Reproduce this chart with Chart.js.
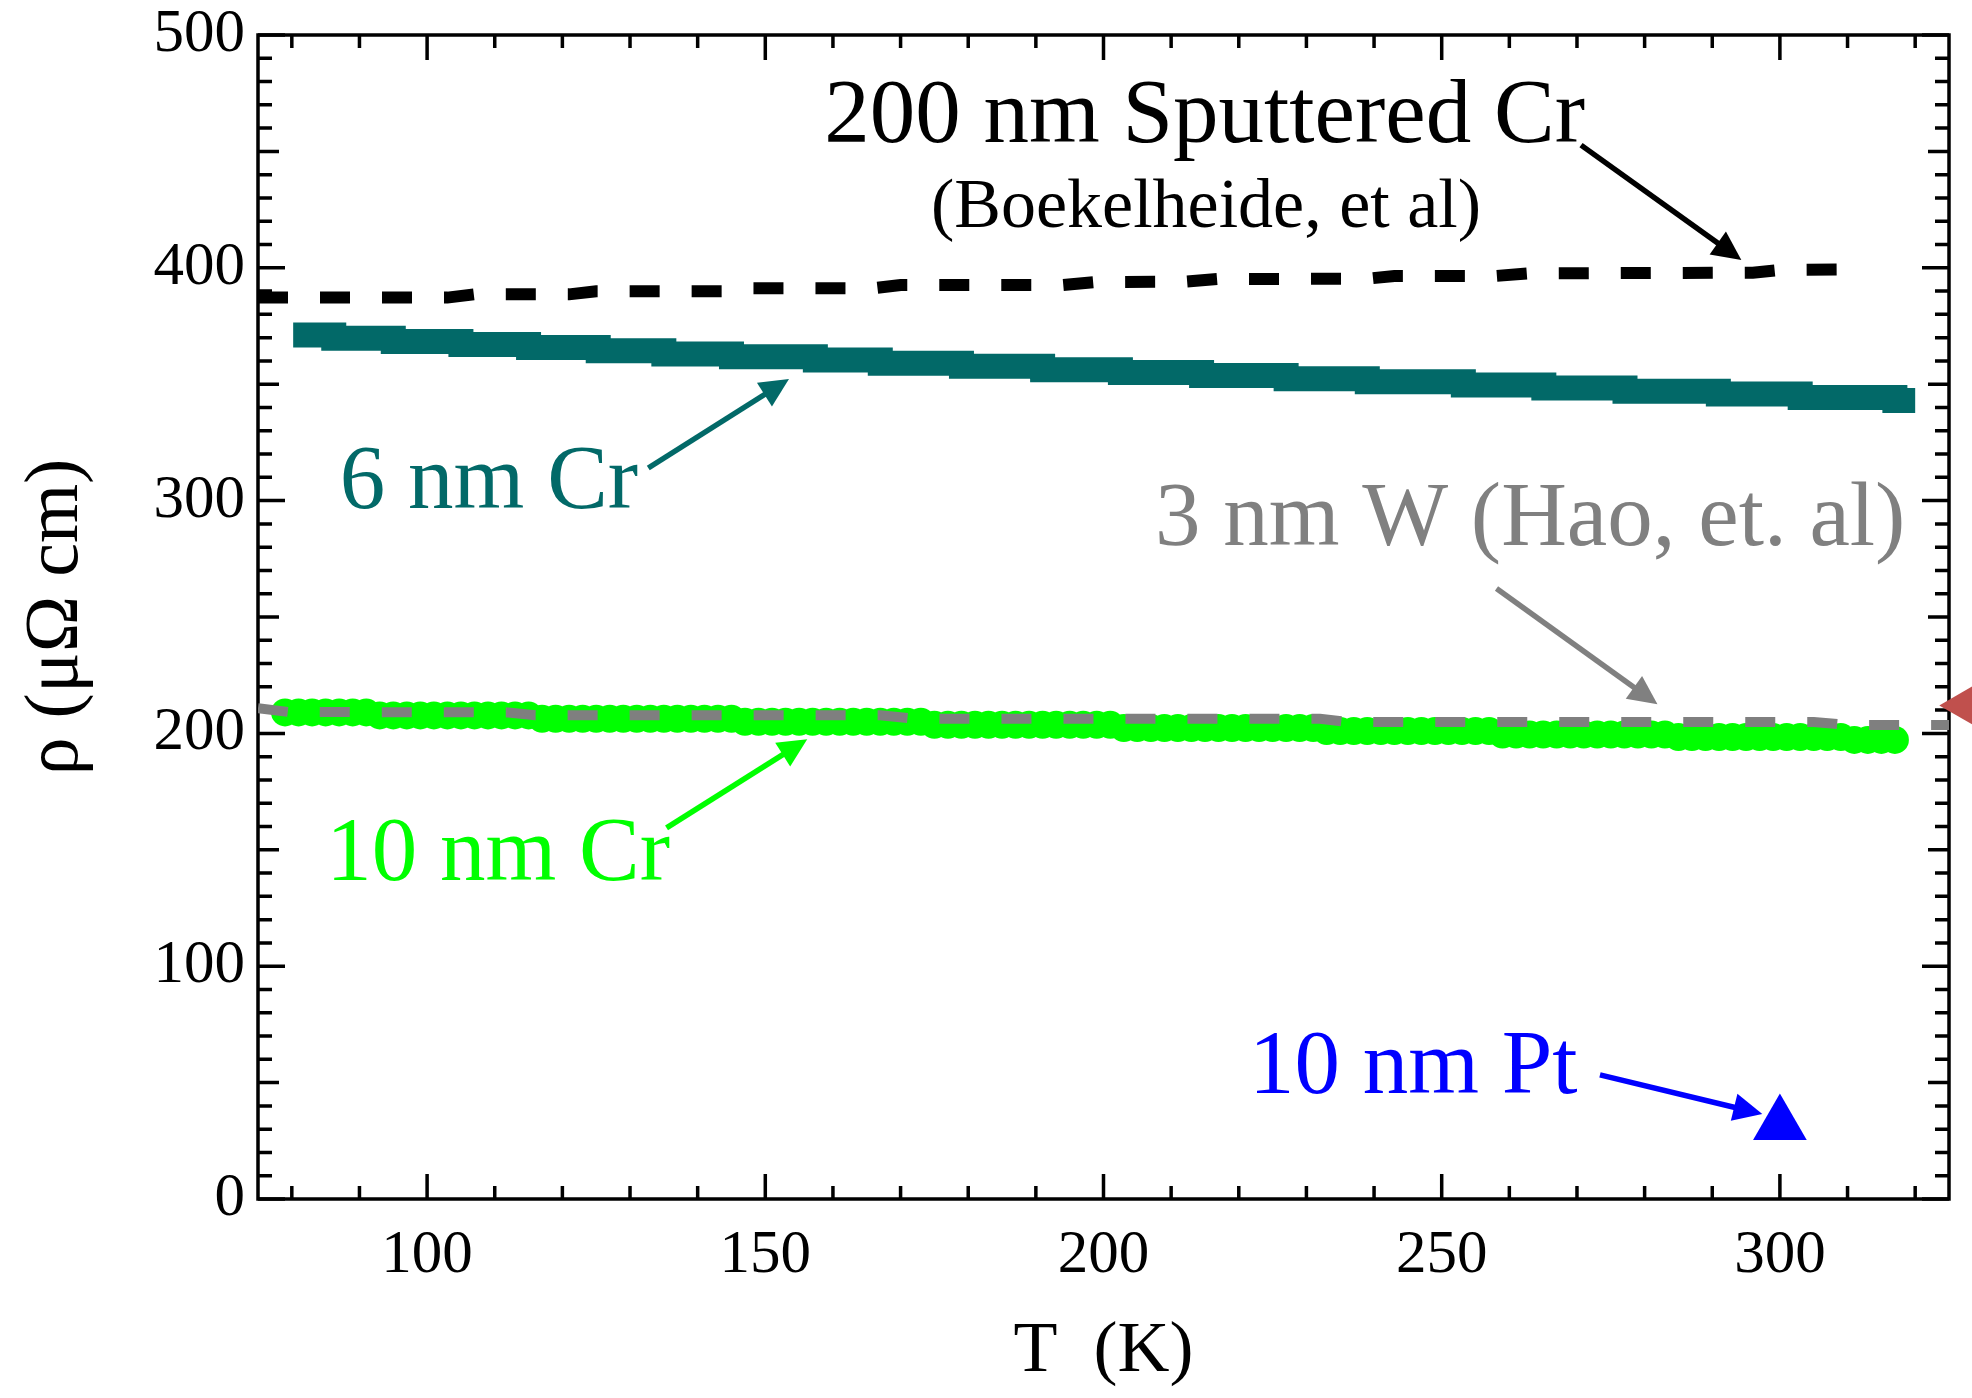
<!DOCTYPE html>
<html>
<head>
<meta charset="utf-8">
<script src="https://cdn.jsdelivr.net/npm/chart.js@4.4.1/dist/chart.umd.min.js"></script>
<style>
  html, body { margin: 0; padding: 0; background: #fff; }
  canvas { display: block; }
</style>
</head>
<body>
<canvas id="rhoChart" width="1972" height="1398"></canvas>
<script>
// 200 nm sputtered Cr (Boekelheide, et al)
var boekT   = [75, 103, 107, 121, 125, 144, 148, 166, 170, 194, 199, 212, 217, 239, 243, 258, 263, 296, 300, 310];
var boekRho = [387.2, 387.2, 388.6, 388.6, 389.9, 389.9, 391.2, 391.2, 392.6, 392.6, 393.9, 394.0, 395.2, 395.3, 396.5, 396.5, 397.6, 397.9, 399.1, 399.3];

// 6 nm Cr
var cr6T   = [80.2, 86.2, 95, 105, 115, 125.3, 135, 145, 157.4, 167, 179, 191, 202.5, 214.5, 227, 239, 253.2, 265.1, 277.1, 290.9, 303, 317, 320];
var cr6Rho = [371.1, 369.7, 368.3, 367.0, 365.8, 364.4, 363.0, 361.8, 360.4, 359.0, 357.7, 356.2, 355.0, 353.7, 352.3, 351.1, 349.7, 348.4, 347.0, 345.8, 344.3, 343.0, 343.0];

// 10 nm Cr
var cr10T = [79, 81, 83, 85, 87, 89, 91,
  93, 95, 97, 99, 101, 103, 105, 107, 109, 111, 113, 115,
  117, 119, 121, 123, 125, 127, 129, 131, 133, 135, 137, 139, 141, 143, 145,
  147, 149, 151, 153, 155, 157, 159, 161, 163, 165, 167, 169, 171, 173,
  175, 177, 179, 181, 183, 185, 187, 189, 191, 193, 195, 197, 199, 201,
  203, 205, 207, 209, 211, 213, 215, 217, 219, 221, 223, 225, 227, 229, 231,
  233, 235, 237, 239, 241, 243, 245, 247, 249, 251, 253, 255, 257,
  259, 261, 263, 265, 267, 269, 271, 273, 275, 277, 279, 281, 283,
  285, 287, 289, 291, 293, 295, 297, 299, 301, 303, 305, 307, 309,
  311, 313, 315, 317];
var cr10Rho = [209.0, 209.0, 209.0, 209.0, 209.0, 209.0, 209.0,
  207.7, 207.7, 207.7, 207.7, 207.7, 207.7, 207.7, 207.7, 207.7, 207.7, 207.7, 207.7,
  206.3, 206.3, 206.3, 206.3, 206.3, 206.3, 206.3, 206.3, 206.3, 206.3, 206.3, 206.3, 206.3, 206.3, 206.3,
  205.0, 205.0, 205.0, 205.0, 205.0, 205.0, 205.0, 205.0, 205.0, 205.0, 205.0, 205.0, 205.0, 205.0,
  203.7, 203.7, 203.7, 203.7, 203.7, 203.7, 203.7, 203.7, 203.7, 203.7, 203.7, 203.7, 203.7, 203.7,
  202.3, 202.3, 202.3, 202.3, 202.3, 202.3, 202.3, 202.3, 202.3, 202.3, 202.3, 202.3, 202.3, 202.3, 202.3,
  201.0, 201.0, 201.0, 201.0, 201.0, 201.0, 201.0, 201.0, 201.0, 201.0, 201.0, 201.0, 201.0,
  199.5, 199.5, 199.5, 199.5, 199.5, 199.5, 199.5, 199.5, 199.5, 199.5, 199.5, 199.5, 199.5,
  198.4, 198.4, 198.4, 198.4, 198.4, 198.4, 198.4, 198.4, 198.4, 198.4, 198.4, 198.4, 198.4,
  197.2, 197.2, 197.2, 197.2];

// 3 nm W (Hao, et. al)
var haoT   = [75, 79.5, 112, 116, 167, 172, 232, 236, 305, 310, 330];
var haoRho = [210.8, 209.2, 209.0, 207.8, 207.8, 206.3, 206.3, 204.9, 204.9, 203.6, 203.6];

// 10 nm Pt
var ptT   = [300];
var ptRho = [32];

// point cut off at the right edge
var edgeT   = [328];
var edgeRho = [212];

var xTickValues = [100, 150, 200, 250, 300];
var yTickValues = [0, 100, 200, 300, 400, 500];

var serif = '"Liberation Serif", "Times New Roman", serif';

// text labels, placed in data coordinates
var labels = [
  {text: '200 nm Sputtered Cr', x: 158.7, y: 454.0, color: '#000000', size: 91},
  {text: '(Boekelheide, et al)', x: 174.5, y: 417.5, color: '#000000', size: 70},
  {text: '6 nm Cr', x: 87.1, y: 296.8, color: '#026968', size: 91},
  {text: '3 nm W (Hao, et. al)', x: 207.6, y: 281.1, color: '#808080', size: 91},
  {text: '10 nm Cr', x: 85.1, y: 137.0, color: '#00FF00', size: 91},
  {text: '10 nm Pt', x: 221.5, y: 45.5, color: '#0000FF', size: 91}
];

// arrows: from (x1,y1) to tip (x2,y2), data coordinates
var arrows = [
  {x1: 270.6, y1: 452.7, x2: 294.3, y2: 403.4, color: '#000000'},
  {x1: 132.7, y1: 314.0, x2: 153.5, y2: 352.2, color: '#026968'},
  {x1: 258.1, y1: 262.2, x2: 281.9, y2: 212.5, color: '#808080'},
  {x1: 135.4, y1: 159.4, x2: 156.2, y2: 197.5, color: '#00FF00'},
  {x1: 273.4, y1: 53.3, x2: 297.4, y2: 36.5, color: '#0000FF'}
];

function toPoints(xs, ys) {
  var pts = [];
  for (var i = 0; i < xs.length; i++) {
    pts.push({x: xs[i], y: ys[i]});
  }
  return pts;
}

// frame with inward ticks on all four sides
var framePlugin = {
  id: 'frame',
  beforeDatasetsDraw: function(chart) {
    var ctx = chart.ctx;
    var a = chart.chartArea;
    var xs = chart.scales.x, ys = chart.scales.y;
    ctx.save();
    ctx.strokeStyle = '#000';
    ctx.lineWidth = 3.5;
    ctx.beginPath();
    for (var v = 0; v <= 500; v += 10) {
      var py = ys.getPixelForValue(v);
      var len = v % 100 === 0 ? 27 : (v % 50 === 0 ? 21 : 14);
      ctx.moveTo(a.left, py); ctx.lineTo(a.left + len, py);
      ctx.moveTo(a.right, py); ctx.lineTo(a.right - len, py);
    }
    for (var t = 80; t <= 320; t += 10) {
      var px = xs.getPixelForValue(t);
      var l2 = t % 50 === 0 ? 25 : 13;
      ctx.moveTo(px, a.bottom); ctx.lineTo(px, a.bottom - l2);
      ctx.moveTo(px, a.top); ctx.lineTo(px, a.top + l2);
    }
    ctx.stroke();
    ctx.strokeRect(a.left, a.top, a.right - a.left, a.bottom - a.top);
    ctx.restore();
  }
};

var notePlugin = {
  id: 'notes',
  afterDatasetsDraw: function(chart) {
    var ctx = chart.ctx;
    var xs = chart.scales.x, ys = chart.scales.y;
    ctx.save();
    labels.forEach(function(l) {
      ctx.font = l.size + 'px ' + serif;
      ctx.fillStyle = l.color;
      ctx.textAlign = 'left';
      ctx.textBaseline = 'alphabetic';
      ctx.fillText(l.text, xs.getPixelForValue(l.x), ys.getPixelForValue(l.y));
    });
    arrows.forEach(function(ar) {
      var x1 = xs.getPixelForValue(ar.x1), y1 = ys.getPixelForValue(ar.y1);
      var x2 = xs.getPixelForValue(ar.x2), y2 = ys.getPixelForValue(ar.y2);
      var ang = Math.atan2(y2 - y1, x2 - x1);
      var head = 29, half = 14;
      var bx = x2 - head * Math.cos(ang), by = y2 - head * Math.sin(ang);
      ctx.strokeStyle = ar.color;
      ctx.fillStyle = ar.color;
      ctx.lineWidth = 5.5;
      ctx.beginPath();
      ctx.moveTo(x1, y1);
      ctx.lineTo(bx + 2 * Math.cos(ang), by + 2 * Math.sin(ang));
      ctx.stroke();
      ctx.beginPath();
      ctx.moveTo(x2, y2);
      ctx.lineTo(bx + half * Math.sin(ang), by - half * Math.cos(ang));
      ctx.lineTo(bx - half * Math.sin(ang), by + half * Math.cos(ang));
      ctx.closePath();
      ctx.fill();
    });
    ctx.restore();
  }
};

var ctx = document.getElementById('rhoChart');

var rhoChart = new Chart(ctx, {
  type: 'scatter',
  data: {
    datasets: [
      {
        label: '3 nm W (Hao, et. al)',
        data: toPoints(haoT, haoRho),
        showLine: true,
        borderColor: '#7F7F7F',
        borderWidth: 10,
        borderDash: [30, 32],
        borderCapStyle: 'butt',
        pointRadius: 0,
        tension: 0,
        clip: 0
      },
      {
        label: '10 nm Cr',
        data: toPoints(cr10T, cr10Rho),
        showLine: false,
        backgroundColor: '#00FF00',
        borderWidth: 0,
        pointRadius: 14,
        pointStyle: 'circle'
      },
      {
        label: '200 nm Sputtered Cr',
        data: toPoints(boekT, boekRho),
        showLine: true,
        borderColor: '#000000',
        borderWidth: 12,
        borderDash: [30, 32],
        borderCapStyle: 'butt',
        pointRadius: 0,
        tension: 0
      },
      {
        label: '6 nm Cr',
        data: toPoints(cr6T, cr6Rho),
        showLine: true,
        stepped: 'before',
        borderColor: '#026968',
        borderWidth: 25,
        borderCapStyle: 'butt',
        borderJoinStyle: 'miter',
        pointRadius: 0
      },
      {
        label: '10 nm Pt',
        data: toPoints(ptT, ptRho),
        showLine: false,
        backgroundColor: '#0000FF',
        borderWidth: 0,
        pointStyle: 'triangle',
        pointRadius: 31
      },
      {
        label: 'edge',
        data: toPoints(edgeT, edgeRho),
        showLine: false,
        backgroundColor: '#C0504D',
        borderWidth: 0,
        pointStyle: 'triangle',
        rotation: -90,
        pointRadius: 30,
        clip: false
      }
    ]
  },
  options: {
    responsive: false,
    animation: false,
    layout: {autoPadding: false, padding: {left: 0, right: 23, top: 35, bottom: 0}},
    plugins: {
      legend: {display: false},
      tooltip: {enabled: false}
    },
    scales: {
      x: {
        type: 'linear',
        position: 'bottom',
        min: 75,
        max: 325,
        grid: {display: false, drawTicks: false},
        border: {display: false},
        ticks: {
          color: '#000',
          font: {family: serif, size: 61, lineHeight: 1},
          padding: 26,
          maxRotation: 0,
          autoSkip: false
        },
        title: {
          display: true,
          text: 'T  (K)',
          color: '#000',
          font: {family: serif, size: 72, lineHeight: 1.2},
          padding: {top: 0, bottom: 3}
        },
        afterBuildTicks: function(scale) {
          scale.ticks = xTickValues.map(function(v) { return {value: v}; });
        },
        afterFit: function(scale) {
          scale.height = 199;
          scale.paddingLeft = 0;
          scale.paddingRight = 0;
        }
      },
      y: {
        type: 'linear',
        min: 0,
        max: 500,
        grid: {display: false, drawTicks: false},
        border: {display: false},
        ticks: {
          color: '#000',
          font: {family: serif, size: 61, lineHeight: 1},
          padding: 13
        },
        title: {
          display: true,
          text: 'ρ (μΩ cm)',
          color: '#000',
          font: {family: serif, size: 76, lineHeight: 1.2},
          padding: {top: 11, bottom: 0}
        },
        afterBuildTicks: function(scale) {
          scale.ticks = yTickValues.map(function(v) { return {value: v}; });
        },
        afterFit: function(scale) {
          scale.width = 258;
          scale.paddingTop = 0;
          scale.paddingBottom = 0;
        }
      }
    }
  },
  plugins: [framePlugin, notePlugin]
});
</script>
</body>
</html>
